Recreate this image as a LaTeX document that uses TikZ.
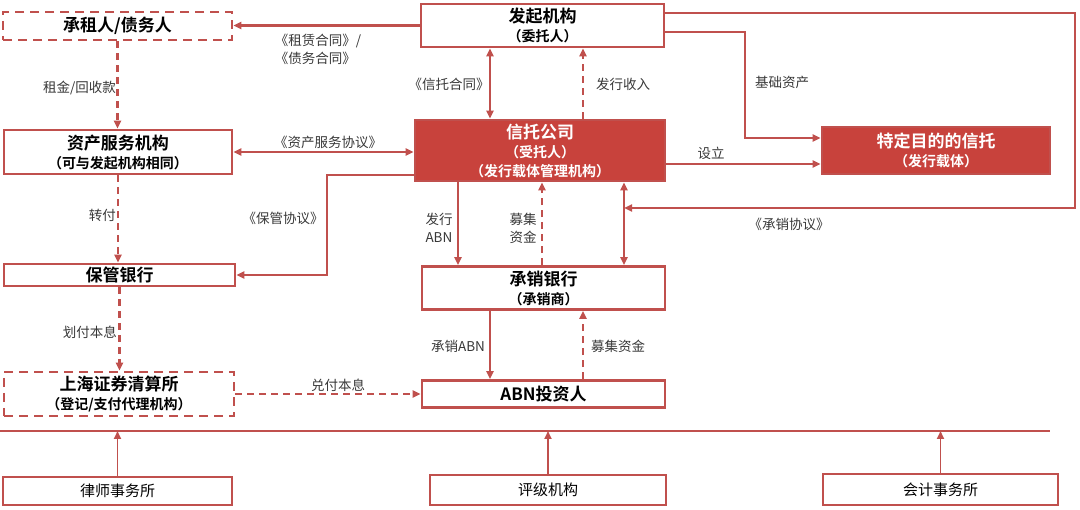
\documentclass[tikz,border=0pt]{standalone}
\usepackage{fontspec}
\setmainfont{Noto Sans CJK SC}[BoldFont={Noto Sans CJK SC Bold}]
\usepackage{tikz}
\usetikzlibrary{arrows.meta}
\definecolor{linered}{RGB}{192,80,77}
\definecolor{fillred}{RGB}{200,66,60}
\newcommand{\subl}[1]{{\fontsize{14}{19}\selectfont #1}}

\begin{document}
\begin{tikzpicture}[x=1pt, y=-1pt,
    main/.style = {draw=linered, line width=2.6pt, inner sep=0pt, align=center, font=\bfseries\fontsize{17}{19}\selectfont},
    filled/.style = {main, fill=fillred, text=white},
    dashbox/.style = {main, dash pattern=on 9pt off 6pt},
    low/.style = {main, font=\fontsize{15}{17}\selectfont},
    lbl/.style = {inner sep=0pt, text=black!78, font=\fontsize{13.5}{18}\selectfont},
    conn/.style = {draw=linered, line width=2.3pt, -{Triangle[length=8pt,width=7pt]}},
    both/.style = {conn, {Triangle[length=8pt,width=7pt]}-{Triangle[length=8pt,width=7pt]}},
    dashconn/.style = {conn, dash pattern=on 7pt off 5pt},
    upconn/.style = {conn, line width=1.7pt}]
                \useasboundingbox (0,0) rectangle (1080,510);
                \node[dashbox, minimum width=229pt, minimum height=28pt] (zuren) at (117.5,26) {承租人/债务人};
                \node[main, minimum width=243pt, minimum height=43pt] (faqi) at (542.5,25.5) {发起机构\\\subl{（委托人）}};
                \node[main, minimum width=228pt, minimum height=44pt] (fuwu) at (118,152) {资产服务机构\\\subl{（可与发起机构相同）}};
                \node[filled, minimum width=250pt, minimum height=61pt] (xintuo) at (540,150.5) {信托公司\\\subl{（受托人）}\\\subl{（发行载体管理机构）}};
                \node[filled, minimum width=228pt, minimum height=47pt] (spv) at (936,150.5) {特定目的的信托\\\subl{（发行载体）}};
                \node[main, minimum width=231pt, minimum height=22pt] (baoguan) at (119.5,275) {保管银行};
                \node[main, minimum width=243pt, minimum height=43pt] (chengxiao) at (543.5,288) {承销银行\\\subl{（承销商）}};
                \node[dashbox, minimum width=230pt, minimum height=44pt] (qingsuan) at (119,394) {上海证券清算所\\\subl{（登记/支付代理机构）}};
                \node[main, minimum width=243pt, minimum height=27pt] (touzi) at (543.5,394) {ABN投资人};
                \node[low, minimum width=229pt, minimum height=28pt] (lvshi) at (117.5,491) {律师事务所};
                \node[low, minimum width=236pt, minimum height=30pt] (pingji) at (548,490) {评级机构};
                \node[low, minimum width=235pt, minimum height=31pt] (kuaiji) at (940.5,489.5) {会计事务所};
                \coordinate (ca) at (490,0);
                \coordinate (cb) at (583,0);
                \coordinate (cc) at (458,0);
                \coordinate (cd) at (542,0);
                \coordinate (ce) at (624,208);
                \coordinate (cf) at (745,32);
                \coordinate (cg) at (1075,13);
                \coordinate (bg) at (327,175);
                \coordinate (l0) at (0,431);
                \coordinate (l1) at (1050,431);
                \draw[conn] (faqi.west) -- (faqi.west -| zuren.east);
                \draw[dashconn] (zuren.south) -- (zuren.south |- fuwu.north);
                \draw[both] (fuwu.east) -- (fuwu.east -| xintuo.west);
                \draw[dashconn] (fuwu.south) -- (fuwu.south |- baoguan.north);
                \draw[conn] (bg -| xintuo.west) -- (bg) |- (baoguan.east);
                \draw[dashconn] (baoguan.south) -- (baoguan.south |- qingsuan.north);
                \draw[dashconn] (qingsuan.east) -- (qingsuan.east -| touzi.west);
                \draw[both] (ca |- faqi.south) -- (ca |- xintuo.north);
                \draw[dashconn] (cb |- xintuo.north) -- (cb |- faqi.south);
                \draw[conn] (cf -| faqi.east) -- (cf) |- ([yshift=12.5pt]spv.west);
                \draw[conn] (cg -| faqi.east) -- (cg) |- (ce);
                \draw[conn] ([yshift=-13.5pt]xintuo.east) -- ([yshift=-13.5pt]xintuo.east -| spv.west);
                \draw[conn] (cc |- xintuo.south) -- (cc |- chengxiao.north);
                \draw[dashconn] (cd |- chengxiao.north) -- (cd |- xintuo.south);
                \draw[both] (ce |- xintuo.south) -- (ce |- chengxiao.north);
                \draw[conn] (ca |- chengxiao.south) -- (ca |- touzi.north);
                \draw[dashconn] (cb |- touzi.north) -- (cb |- chengxiao.south);
                \draw[draw=linered, line width=2.4pt] (l0) -- (l1);
                \draw[upconn] (lvshi.north) -- (lvshi.north |- l0);
                \draw[upconn] (pingji.north) -- (pingji.north |- l0);
                \draw[upconn] (kuaiji.north) -- (kuaiji.north |- l0);
                \node[lbl, align=left] (zl) at (318,49) {《租赁合同》/\\《债务合同》};
                \node[lbl, anchor=east] (zj) at (116,88) {租金/回收款};
                \node[lbl] (fx) at (328,142) {《资产服务协议》};
                \node[lbl, anchor=east] (zf) at (116,215) {转付};
                \node[lbl] (bx) at (283,218) {《保管协议》};
                \node[lbl, anchor=east] (hf) at (117,332) {划付本息};
                \node[lbl] (df) at (338,385) {兑付本息};
                \node[lbl] (xh) at (449,84) {《信托合同》};
                \node[lbl] (fs) at (623,84) {发行收入};
                \node[lbl] (jc) at (782,82) {基础资产};
                \node[lbl] (sl) at (711,153) {设立};
                \node[lbl] (cx) at (789,224) {《承销协议》};
                \node[lbl, align=left] (fa) at (439,228) {发行\\ABN};
                \node[lbl, align=center] (mj) at (523,228) {募集\\资金};
                \node[lbl] (cb2) at (458,346) {承销ABN};
                \node[lbl] (mj2) at (618,346) {募集资金};
            \end{tikzpicture}
\end{document}
